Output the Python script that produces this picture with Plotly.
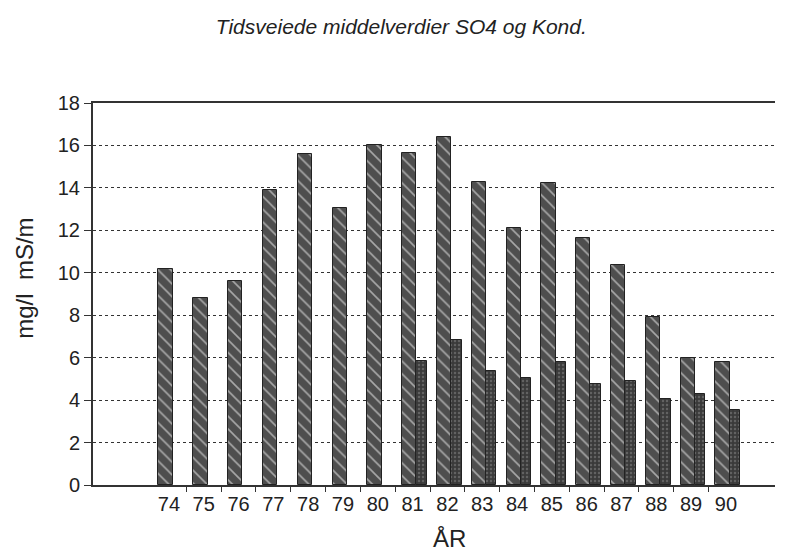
import plotly.graph_objects as go

years = [74, 75, 76, 77, 78, 79, 80, 81, 82, 83, 84, 85, 86, 87, 88, 89, 90]
kond = [10.2, 8.8, 9.6, 13.9, 15.6, 13.05, 16.0, 15.65, 16.4, 14.3, 12.1, 14.25, 11.65, 10.35, 7.9, 6.0, 5.8]
so4_years = [81, 82, 83, 84, 85, 86, 87, 88, 89, 90]
so4 = [5.85, 6.85, 5.35, 5.05, 5.8, 4.75, 4.9, 4.05, 4.3, 3.55]
y_ticks = [0, 2, 4, 6, 8, 10, 12, 14, 16, 18]

font = "Liberation Sans, Arial, sans-serif"

fig = go.Figure()

# hatched bars (Kond.)
fig.add_trace(
    go.Bar(
        x=years,
        y=kond,
        offset=-0.3,
        width=0.41,
        marker=dict(
            color="#4e4e4e",
            line=dict(color="#222222", width=1),
            pattern=dict(shape="\\", fgcolor="white", size=9, solidity=0.18),
        ),
        showlegend=False,
    )
)

# dark stippled bars (SO4)
fig.add_trace(
    go.Bar(
        x=so4_years,
        y=so4,
        offset=0.11,
        width=0.3,
        marker=dict(
            color="#3a3a3a",
            line=dict(color="#222222", width=1),
            pattern=dict(shape=".", fgcolor="#8a8a8a", size=4, solidity=0.3),
        ),
        showlegend=False,
    )
)

# invisible trace on second x axis, only there for the between-category ticks
fig.add_trace(go.Scatter(x=[72], y=[0], xaxis="x2", mode="markers",
                         marker=dict(opacity=0), showlegend=False, hoverinfo="skip"))

x_range = [71.82, 91.41]

# page body has an 8px margin, so the figure is a bit smaller than the window
fig.update_layout(
    width=793,
    height=545,
    paper_bgcolor="white",
    plot_bgcolor="white",
    margin=dict(l=85, r=26, t=95, b=68),
    font=dict(family=font, color="#222222", size=20),
    title=dict(
        text="<i>Tidsveiede middelverdier SO4 og Kond.</i>",
        x=0.496,
        xanchor="center",
        y=0.965,
        yanchor="middle",
        font=dict(family=font, size=21, color="#222222"),
    ),
    bargap=0,
    xaxis=dict(
        range=x_range,
        tickvals=years,
        ticktext=[str(y) for y in years],
        ticks="",
        showgrid=False,
        zeroline=False,
        showline=True,
        linecolor="#333333",
        linewidth=2,
        mirror=True,
        tickfont=dict(size=20),
    ),
    xaxis2=dict(
        range=x_range,
        overlaying="x",
        anchor="y",
        side="bottom",
        tickvals=[y + 0.5 for y in years[:-1]],
        showticklabels=False,
        ticks="outside",
        ticklen=6,
        tickcolor="#333333",
        showgrid=False,
        zeroline=False,
        showline=False,
    ),
    yaxis=dict(
        range=[0, 18],
        tickvals=y_ticks,
        ticks="outside",
        ticklen=7,
        tickcolor="#333333",
        showgrid=True,
        gridcolor="#333333",
        griddash="dot",
        gridwidth=1,
        zeroline=False,
        showline=True,
        linecolor="#333333",
        linewidth=2,
        tickfont=dict(size=20),
    ),
    annotations=[
        dict(
            text="ÅR",
            x=0.522,
            y=-0.139,
            xref="paper",
            yref="paper",
            showarrow=False,
            yanchor="middle",
            font=dict(size=24, family=font),
        ),
        dict(
            text="mg/l  mS/m",
            x=-0.1,
            y=0.542,
            xref="paper",
            yref="paper",
            textangle=-90,
            showarrow=False,
            xanchor="center",
            yanchor="middle",
            font=dict(size=24, family=font),
        ),
    ],
)

fig.write_html("out.html")
